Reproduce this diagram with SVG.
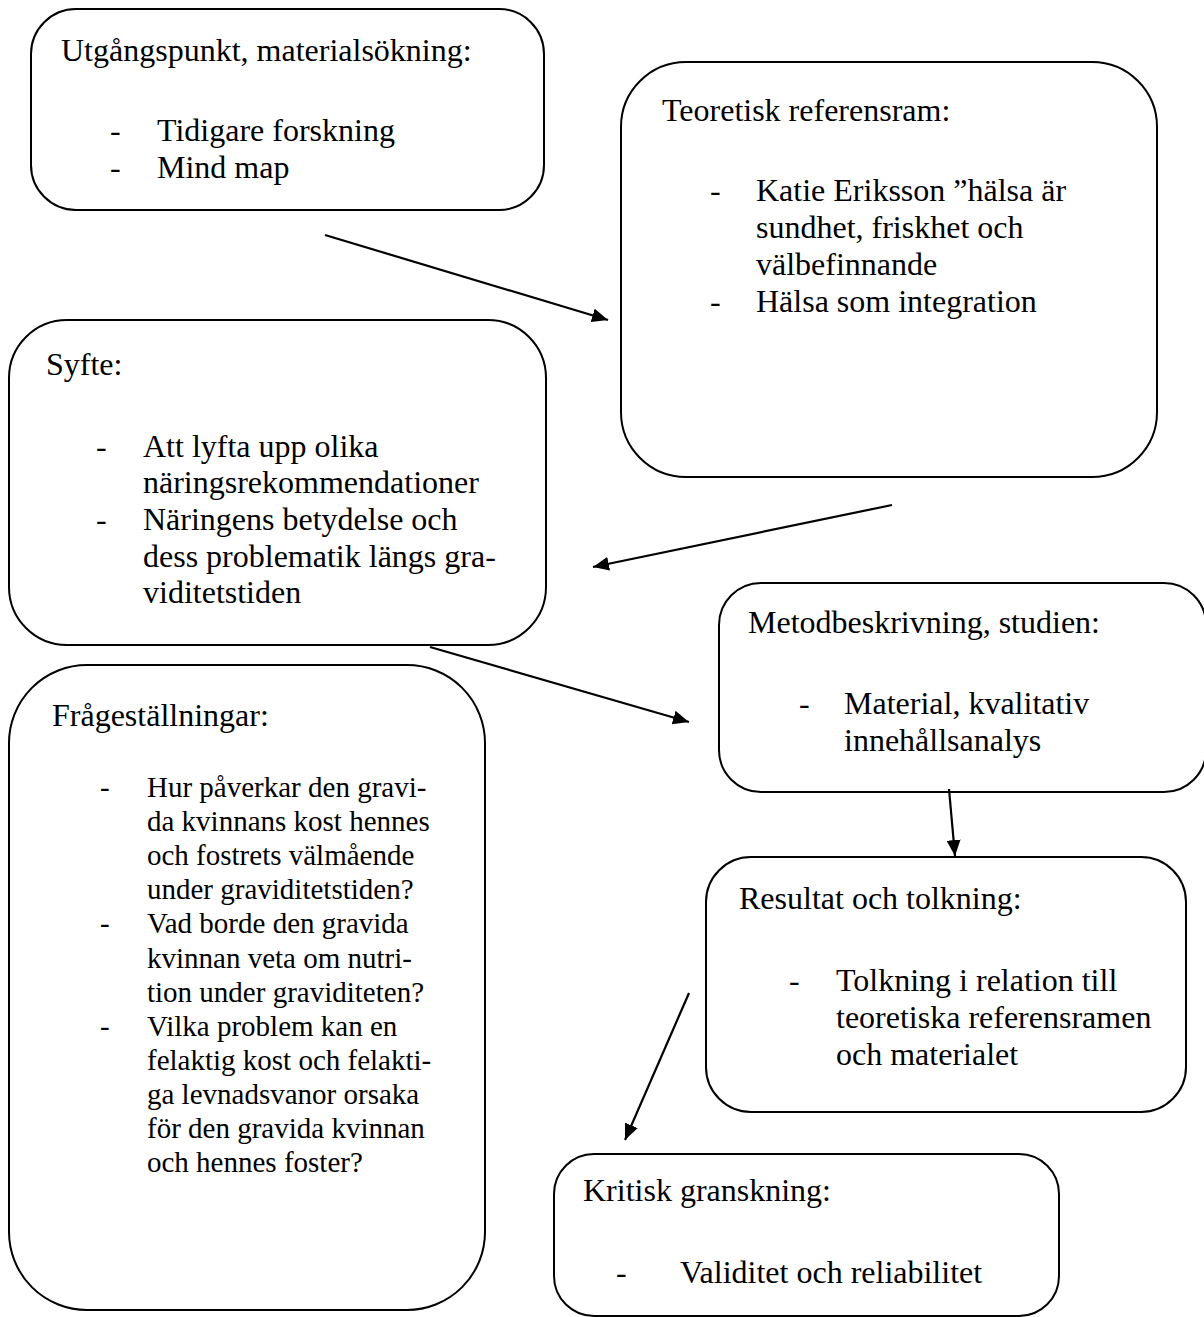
<svg xmlns="http://www.w3.org/2000/svg" width="1204" height="1317" viewBox="0 0 1204 1317">
<style>
.box{fill:#fff;stroke:#000;stroke-width:2}
text{font-family:"Liberation Serif","Times New Roman",serif;font-size:32px;fill:#000}
.sm{font-size:29px}
.conn line{stroke:#000;stroke-width:2.2}
</style>
<defs>
<marker id="arr" markerUnits="userSpaceOnUse" markerWidth="17" markerHeight="14" refX="16" refY="7" orient="auto" viewBox="0 0 17 14">
<path d="M0,0 L16,7 L0,14 z" fill="#000"/>
</marker>
</defs>

<g id="node-utgangspunkt">
<rect class="box" x="31" y="9" width="513" height="201" rx="45"/>
<text x="61" y="61">Utgångspunkt, materialsökning:</text>
<text x="110" y="141">-</text><text x="157" y="141">Tidigare forskning</text>
<text x="110" y="178">-</text><text x="157" y="178">Mind map</text>
</g>

<g id="node-teoretisk">
<rect class="box" x="621" y="62" width="536" height="415" rx="65"/>
<text x="662" y="121">Teoretisk referensram:</text>
<text x="710" y="201">-</text><text x="756" y="201">Katie Eriksson ”hälsa är</text>
<text x="756" y="238">sundhet, friskhet och</text>
<text x="756" y="275">välbefinnande</text>
<text x="710" y="312">-</text><text x="756" y="312">Hälsa som integration</text>
</g>

<g id="node-syfte">
<rect class="box" x="9" y="320" width="537" height="325" rx="58"/>
<text x="46" y="375">Syfte:</text>
<text x="96" y="457">-</text><text x="143" y="457">Att lyfta upp olika</text>
<text x="143" y="493">näringsrekommendationer</text>
<text x="96" y="530">-</text><text x="143" y="530">Näringens betydelse och</text>
<text x="143" y="567">dess problematik längs gra-</text>
<text x="143" y="603">viditetstiden</text>
</g>

<g id="node-fragestallningar">
<rect class="box" x="9" y="665" width="476" height="645" rx="78"/>
<text x="52" y="726">Frågeställningar:</text>
<text class="sm" x="100" y="797">-</text><text class="sm" x="147" y="797">Hur påverkar den gravi-</text>
<text class="sm" x="147" y="831">da kvinnans kost hennes</text>
<text class="sm" x="147" y="865">och fostrets välmående</text>
<text class="sm" x="147" y="899">under graviditetstiden?</text>
<text class="sm" x="100" y="933">-</text><text class="sm" x="147" y="933">Vad borde den gravida</text>
<text class="sm" x="147" y="968">kvinnan veta om nutri-</text>
<text class="sm" x="147" y="1002">tion under graviditeten?</text>
<text class="sm" x="100" y="1036">-</text><text class="sm" x="147" y="1036">Vilka problem kan en</text>
<text class="sm" x="147" y="1070">felaktig kost och felakti-</text>
<text class="sm" x="147" y="1104">ga levnadsvanor orsaka</text>
<text class="sm" x="147" y="1138">för den gravida kvinnan</text>
<text class="sm" x="147" y="1172">och hennes foster?</text>
</g>

<g id="node-metod">
<rect class="box" x="719" y="583" width="487" height="209" rx="42"/>
<text x="748" y="633">Metodbeskrivning, studien:</text>
<text x="799" y="714">-</text><text x="844" y="714">Material, kvalitativ</text>
<text x="844" y="751">innehållsanalys</text>
</g>

<g id="node-resultat">
<rect class="box" x="706" y="857" width="480" height="255" rx="45"/>
<text x="739" y="909">Resultat och tolkning:</text>
<text x="789" y="991">-</text><text x="836" y="991">Tolkning i relation till</text>
<text x="836" y="1028">teoretiska referensramen</text>
<text x="836" y="1065">och materialet</text>
</g>

<g id="node-kritisk">
<rect class="box" x="554" y="1154" width="505" height="162" rx="40"/>
<text x="583" y="1201">Kritisk granskning:</text>
<text x="616" y="1283">-</text><text x="680" y="1283">Validitet och reliabilitet</text>
</g>

<g id="connectors" class="conn">
<line x1="325" y1="235" x2="608" y2="320" marker-end="url(#arr)"/>
<line x1="892" y1="505" x2="593" y2="567" marker-end="url(#arr)"/>
<line x1="430" y1="647" x2="689" y2="722" marker-end="url(#arr)"/>
<line x1="949" y1="789" x2="955" y2="856" marker-end="url(#arr)"/>
<line x1="689" y1="993" x2="625" y2="1140" marker-end="url(#arr)"/>
</g>
</svg>
